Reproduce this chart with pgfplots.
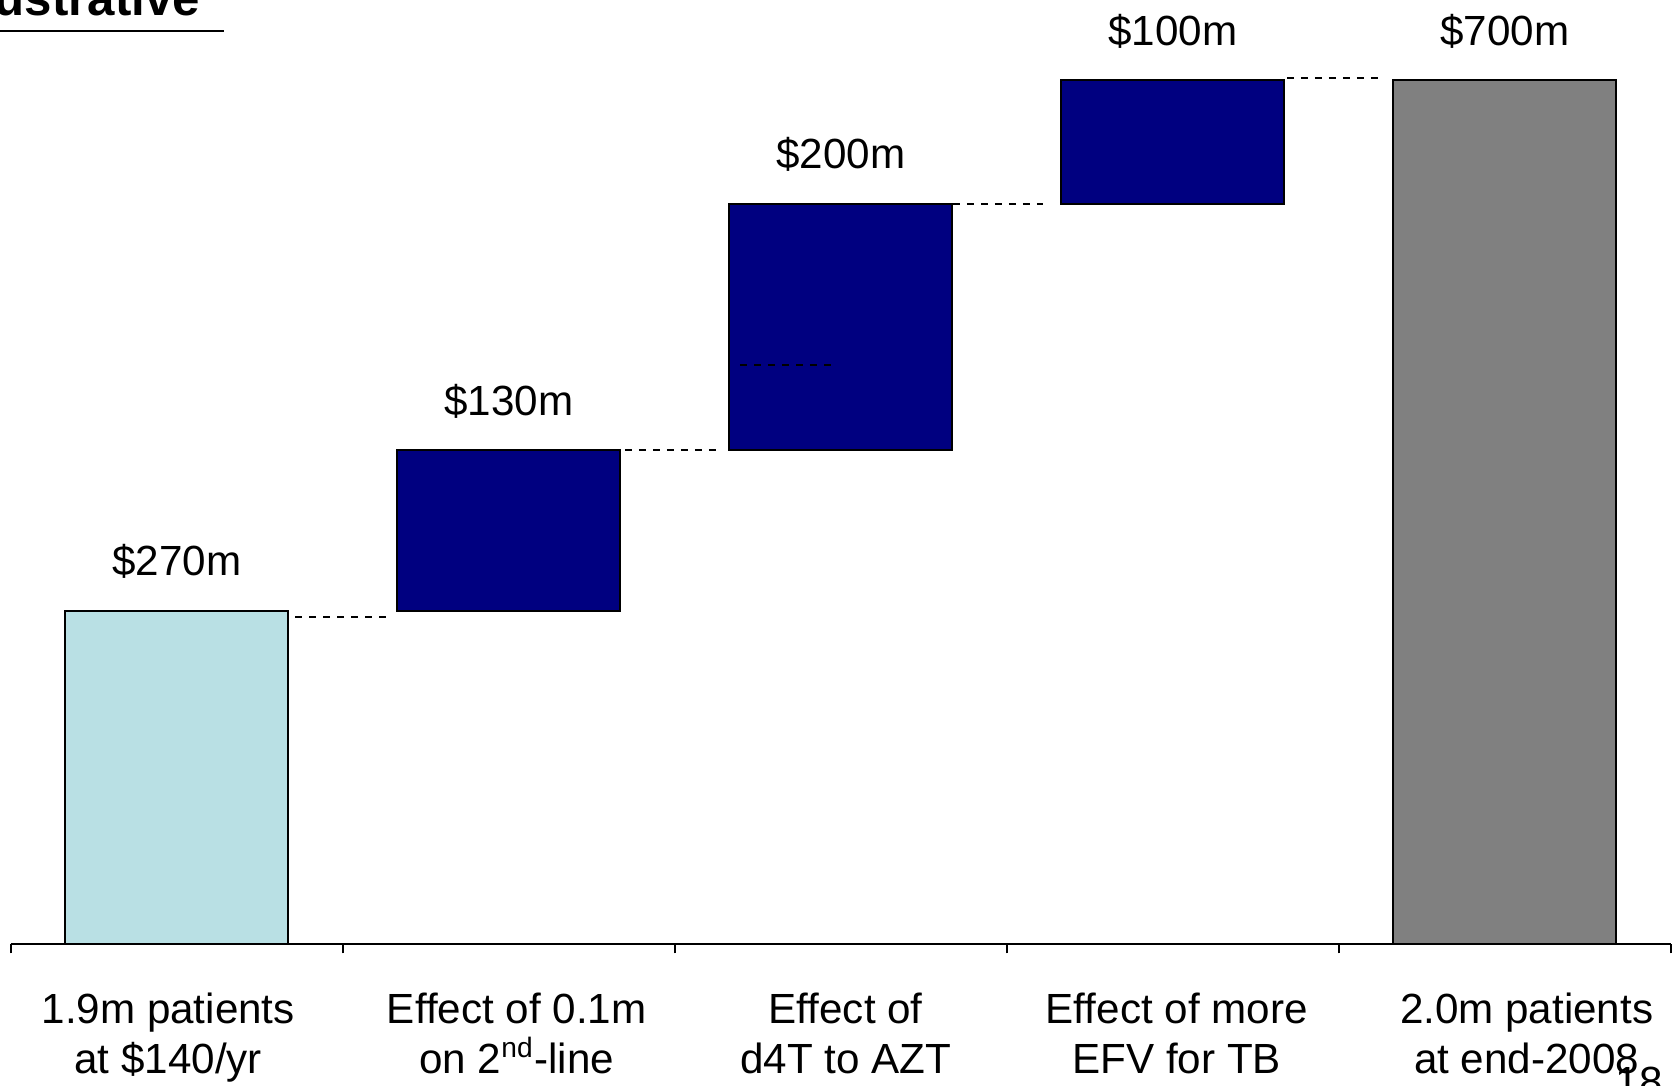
\documentclass[border=0pt]{standalone}
\usepackage{pgfplots}
\pgfplotsset{compat=1.18}
\usepackage{fontspec}
\setmainfont{Liberation Sans}
\definecolor{lightbar}{HTML}{B9E0E4}
\definecolor{navybar}{HTML}{000080}
\definecolor{graybar}{HTML}{808080}
\newcommand{\sh}[1]{\hspace*{#1}}
\begin{document}
\begin{tikzpicture}
\pgfplotsset{
  wf/.style={scale only axis, width=166mm, height=94.4mm,
    xmin=-0.5, xmax=4.5, ymin=0, ymax=765,
    at={(1.07mm,14.2mm)}, anchor=south west, clip=false},
}
\begin{axis}[wf, ybar stacked, bar width=22.3mm,
  axis x line*=bottom, axis y line=none, ytick=\empty,
  x axis line style={line width=0.6pt, -},
  xtick={0,1,2,3,4},
  xticklabels={
    {\sh{-1.7mm}1.9m patients\\\sh{-1.7mm}at \$140/yr},
    {\sh{1.6mm}Effect of 0.1m\\\sh{1.6mm}on 2\textsuperscript{nd}-line},
    {\sh{1.0mm}Effect of\\\sh{1.0mm}d4T to AZT},
    {\sh{0.8mm}Effect of more\\\sh{0.8mm}EFV for TB},
    {\sh{4.4mm}2.0m patients\\\sh{4.4mm}at end-2008}},
  xticklabel style={align=center, font=\fontsize{12}{14.2}\selectfont,
    anchor=north, inner sep=0pt, yshift=-4.8mm},
  major tick length=0pt,
  minor xtick={-0.5,0.5,1.5,2.5,3.5,4.5},
  minor tick length=0.95mm, xtick align=outside,
  minor tick style={line width=0.6pt, black},
]
% invisible base of the floating bars
\addplot[draw=none, fill=none] coordinates {(0,0) (1,270) (2,400) (3,600) (4,0)};
% starting bar
\addplot[draw=black, line width=0.6pt, fill=lightbar] coordinates
  {(0,270) (1,0) (2,0) (3,0) (4,0)};
% increments
\addplot[draw=black, line width=0.6pt, fill=navybar] coordinates
  {(0,0) (1,130) (2,200) (3,100) (4,0)};
% total
\addplot[draw=black, line width=0.6pt, fill=graybar] coordinates
  {(0,0) (1,0) (2,0) (3,0) (4,700)};
\end{axis}
\begin{axis}[wf, hide axis]
\addplot[black, line width=0.55pt, dash pattern=on 0.7mm off 0.7mm] coordinates {(0.357,265) (0.633,265)};
\addplot[black, line width=0.55pt, dash pattern=on 0.7mm off 0.7mm] coordinates {(1.350,400) (1.627,400)};
\addplot[black, line width=0.55pt, dash pattern=on 0.7mm off 0.7mm] coordinates {(2.338,600) (2.608,600)};
\addplot[black, line width=0.55pt, dash pattern=on 0.7mm off 0.7mm] coordinates {(3.344,702) (3.617,702)};
\addplot[black, line width=0.55pt, dash pattern=on 0.7mm off 0.7mm] coordinates {(1.698,469) (1.977,469)};
% value labels above the bars (at each bar's top)
\addplot[draw=none, mark=none, nodes near coords={\pgfplotspointmeta},
  point meta=explicit symbolic,
  every node near coord/.append style={anchor=center, yshift=4.9mm, inner sep=0pt,
    font=\fontsize{12}{14.2}\selectfont, text=black}]
  coordinates {(0,270) [\$270m] (1,400) [\$130m] (2,600) [\$200m] (3,700) [\$100m] (4,700) [\$700m]};
\end{axis}
\node[anchor=base west, inner sep=0pt, font=\fontsize{14}{16}\selectfont\bfseries] at (-4.7mm,107mm) {Illustrative};
\draw[line width=0.6pt] (0,105.5mm) -- (22.4mm,105.5mm);
\node[anchor=north west, inner sep=0pt, font=\fontsize{12}{14}\selectfont] at (161.5mm,2.0mm) {18};
\pgfresetboundingbox
\path[use as bounding box] (0,0) rectangle (167.3mm,108.6mm);
\end{tikzpicture}
\end{document}
